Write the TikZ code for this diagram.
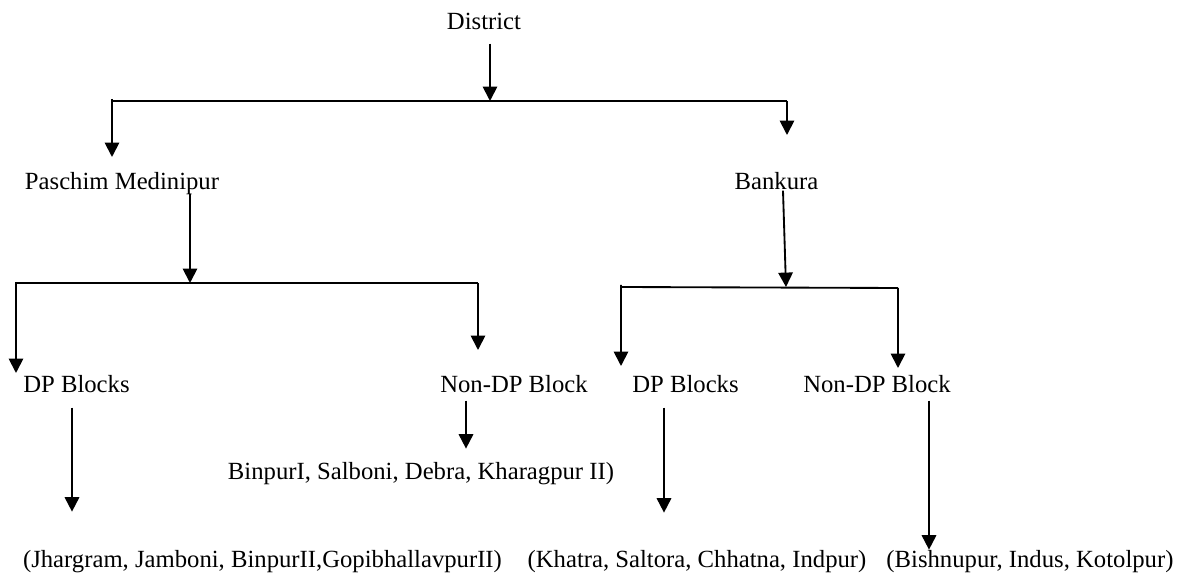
\documentclass[tikz,border=0pt]{standalone}
\usepackage{fontspec}
\setmainfont{Liberation Serif}
\usetikzlibrary{arrows.meta}

\begin{document}
\begin{tikzpicture}[x=0.486pt,y=-0.486pt,
	  every node/.style={align=center,inner sep=0pt,anchor=base,font=\fontsize{12}{14}\selectfont},
	  bar/.style={line width=0.9pt},
	  link/.style={line width=0.9pt,-{Triangle[width=7pt,length=7pt]}}]

	  % page frame
	  \fill[white] (0,0) rectangle (1180,573);

	  % Place the labels at their baselines
	  \node (district) at (484,30) {District};
	  \node (pm) at (122,190) {Paschim Medinipur};
	  \node (bankura) at (776.5,190) {Bankura};
	  \node (pmdp) at (76.5,393) {DP Blocks};
	  \node (pmnon) at (514,393) {Non-DP Block};
	  \node (bkdp) at (685.5,393) {DP Blocks};
	  \node (bknon) at (877,393) {Non-DP Block};
	  \node (pmnonlist) at (421,480) {BinpurI, Salboni, Debra, Kharagpur II)};
	  \node (pmdplist) at (262.5,568) {(Jhargram, Jamboni, BinpurII,GopibhallavpurII)};
	  \node (bkdplist) at (697,568) {(Khatra, Saltora, Chhatna, Indpur)};
	  \node (bknonlist) at (1030,568) {(Bishnupur, Indus, Kotolpur)};

	  % junctions of the brackets
	  \coordinate (jtop) at (490,101);
	  \coordinate (tl) at (112,101);
	  \coordinate (tr) at (787,101);
	  \coordinate (jpm) at (190,283);
	  \coordinate (pl) at (16,283);
	  \coordinate (pr) at (478,283);
	  \coordinate (jbk) at (786,287);
	  \coordinate (bl) at (621,287);
	  \coordinate (br) at (898,288);

	  \draw[link] (district.south) ++(6,13) -- (jtop);
	  \draw[bar] (tl) ++(0,-2) -- (tl) -- (tr);
	  \draw[link] (tl) -- ++(0,56);
	  \draw[link] (tr) -- ++(0,34);

	  \draw[link] (pm.south) ++(68,-2) -- (jpm);
	  \draw[bar] (pl) ++(0,-1) -- (pl) -- (pr);
	  \draw[link] (pl) -- ++(0,90);
	  \draw[link] (pr) -- ++(0,67);

	  \draw[link] (bankura.south) ++(6.5,0) -- (jbk);
	  \draw[bar] (bl) ++(0,-2) -- (bl) -- (br);
	  \draw[link] (bl) -- ++(0,79);
	  \draw[link] (br) -- ++(0,80);

	  \draw[link] (pmdp.south) ++(-4.5,14) -- ++(0,104);
	  \draw[link] (pmnon.south) ++(-48,7) -- ++(0,48);
	  \draw[link] (bkdp.south) ++(-21.5,14) -- ++(0,105);
	  \draw[link] (bknon.south) ++(52,7) -- ++(0,149);
\end{tikzpicture}
\end{document}
